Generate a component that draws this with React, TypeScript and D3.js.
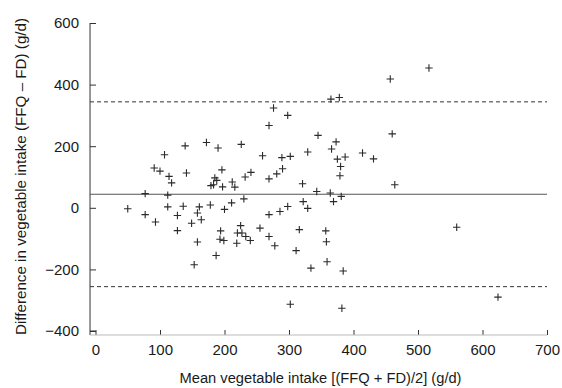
import React, { useEffect, useRef } from 'react';
import * as d3 from 'd3';

// Bland-Altman points: [mean intake, difference] in g/d
const meanIntake = [
  50, 77, 77, 93, 91, 100, 107, 114, 118, 112, 112, 136, 127, 127, 139, 141, 149, 158, 161, 164,
  158, 153, 172, 190, 196, 185, 188, 179, 183, 197, 212, 216, 178, 200, 211, 226, 194, 193, 199, 187,
  220, 219, 225, 227, 233, 240, 255, 269, 278, 316, 311, 357, 358, 359, 334, 384, 302, 382, 457, 517,
  365, 378, 276, 298, 269, 460, 345, 373, 366, 329, 414, 431, 259, 289, 302, 375, 387, 380, 379, 241,
  232, 290, 281, 269, 464, 321, 343, 364, 369, 381, 230, 322, 329, 269, 286, 298, 560, 624,
];
const difference = [
  -3, 46, -22, -46, 129, 119, 172, 102, 81, 41, 3, 5, -25, -74, 201, 113, -50, -17, 3, -39,
  -111, -185, 212, 194, 123, 97, 89, 72, 75, 68, 84, 67, 9, -5, 16, 206, -75, -102, -106, -155,
  -82, -115, -58, -82, -93, -106, -66, -93, -123, -71, -139, -75, -110, -175, -196, -205, -313, -326, 418, 454,
  353, 358, 324, 300, 267, 240, 235, 214, 191, 181, 178, 159, 169, 163, 167, 158, 165, 134, 104, 115,
  100, 127, 110, 94, 75, 78, 53, 48, 20, 37, 29, 20, -2, -22, -12, 4, -63, -290,
];

const meanDiff = 44;
const limits = [344, -256];

const xTicks = [0, 100, 200, 300, 400, 500, 600, 700];
const yTicks = [-400, -200, 0, 200, 400, 600];

const App = () => {
  const svgRef = useRef(null);

  useEffect(() => {
    const svg = d3.select(svgRef.current);
    svg.selectAll('*').remove();

    const x = d3.scaleLinear().domain([0, 700]).range([95.5, 547]);
    const y = d3.scaleLinear().domain([-400, 600]).range([331, 23]);
    const axisY = y(-413);
    const axisX = x(-8.5);
    const ink = '#333';
    const font = '"Liberation Sans", Arial, sans-serif';

    // y axis
    const yAxis = svg.append('g').attr('transform', `translate(${axisX},0)`);
    yAxis.call(d3.axisLeft(y).tickValues(d3.range(-400, 601, 50)).tickSize(-3).tickFormat(() => ''));
    yAxis.call(d3.axisLeft(y).tickValues(yTicks).tickSize(-6).tickPadding(11).tickFormat(d3.format('d')));
    yAxis.selectAll('.domain').remove();
    yAxis.selectAll('line').attr('stroke', ink);
    yAxis.selectAll('text')
      .attr('font-family', font)
      .attr('font-size', 15)
      .attr('fill', '#1a1a1a')
      .text(d => (d < 0 ? '\u2212' + Math.abs(d) : d));
    svg.append('line')
      .attr('x1', axisX).attr('x2', axisX)
      .attr('y1', y(600)).attr('y2', axisY)
      .attr('stroke', ink);

    // x axis
    const xAxis = svg.append('g').attr('transform', `translate(0,${axisY})`);
    xAxis.call(d3.axisBottom(x).tickValues(d3.range(0, 701, 20)).tickSize(-2).tickFormat(() => ''));
    xAxis.call(d3.axisBottom(x).tickValues(xTicks).tickSize(-5).tickPadding(9).tickFormat(d3.format('d')));
    xAxis.selectAll('.domain').remove();
    xAxis.selectAll('line').attr('stroke', ink);
    xAxis.selectAll('text')
      .attr('font-family', font)
      .attr('font-size', 15)
      .attr('fill', '#1a1a1a');
    svg.append('line')
      .attr('x1', axisX).attr('x2', x(700))
      .attr('y1', axisY).attr('y2', axisY)
      .attr('stroke', '#bbb');
    svg.append('line')
      .attr('x1', axisX).attr('x2', x(0))
      .attr('y1', y(-400)).attr('y2', y(-400))
      .attr('stroke', ink);

    // mean and limits of agreement
    svg.append('line')
      .attr('x1', axisX).attr('x2', x(700))
      .attr('y1', y(meanDiff)).attr('y2', y(meanDiff))
      .attr('stroke', '#555')
      .attr('stroke-width', 1.2);
    limits.forEach(l => {
      svg.append('line')
        .attr('x1', axisX).attr('x2', x(700))
        .attr('y1', y(l)).attr('y2', y(l))
        .attr('stroke', '#333')
        .attr('stroke-dasharray', '4,3');
    });

    // points as plus markers
    const r = 3.7;
    const pts = meanIntake.map((m, i) => [m, difference[i]]);
    svg.append('g')
      .selectAll('path')
      .data(pts)
      .enter()
      .append('path')
      .attr('d', d => {
        const cx = x(d[0]);
        const cy = y(d[1]);
        return `M${cx - r},${cy}H${cx + r}M${cx},${cy - r}V${cy + r}`;
      })
      .attr('stroke', '#2a2a2a')
      .attr('stroke-width', 1.1)
      .attr('fill', 'none');

    // titles
    svg.append('text')
      .attr('x', (axisX + x(700)) / 2 + 2)
      .attr('y', 383)
      .attr('text-anchor', 'middle')
      .attr('font-family', font)
      .attr('font-size', 14.7)
      .attr('fill', '#1a1a1a')
      .text('Mean vegetable intake [(FFQ + FD)/2] (g/d)');

    svg.append('text')
      .attr('transform', `translate(26,${(13 + 340) / 2}) rotate(-90)`)
      .attr('text-anchor', 'middle')
      .attr('font-family', font)
      .attr('font-size', 15.2)
      .attr('fill', '#1a1a1a')
      .text('Difference in vegetable intake (FFQ \u2013 FD) (g/d)');
  }, []);

  return (
    <div style={{ position: 'absolute', left: 0, top: 0 }}>
      <svg ref={svgRef} width={562} height={388} style={{ display: 'block', background: '#fff' }} />
    </div>
  );
};

export default App;
